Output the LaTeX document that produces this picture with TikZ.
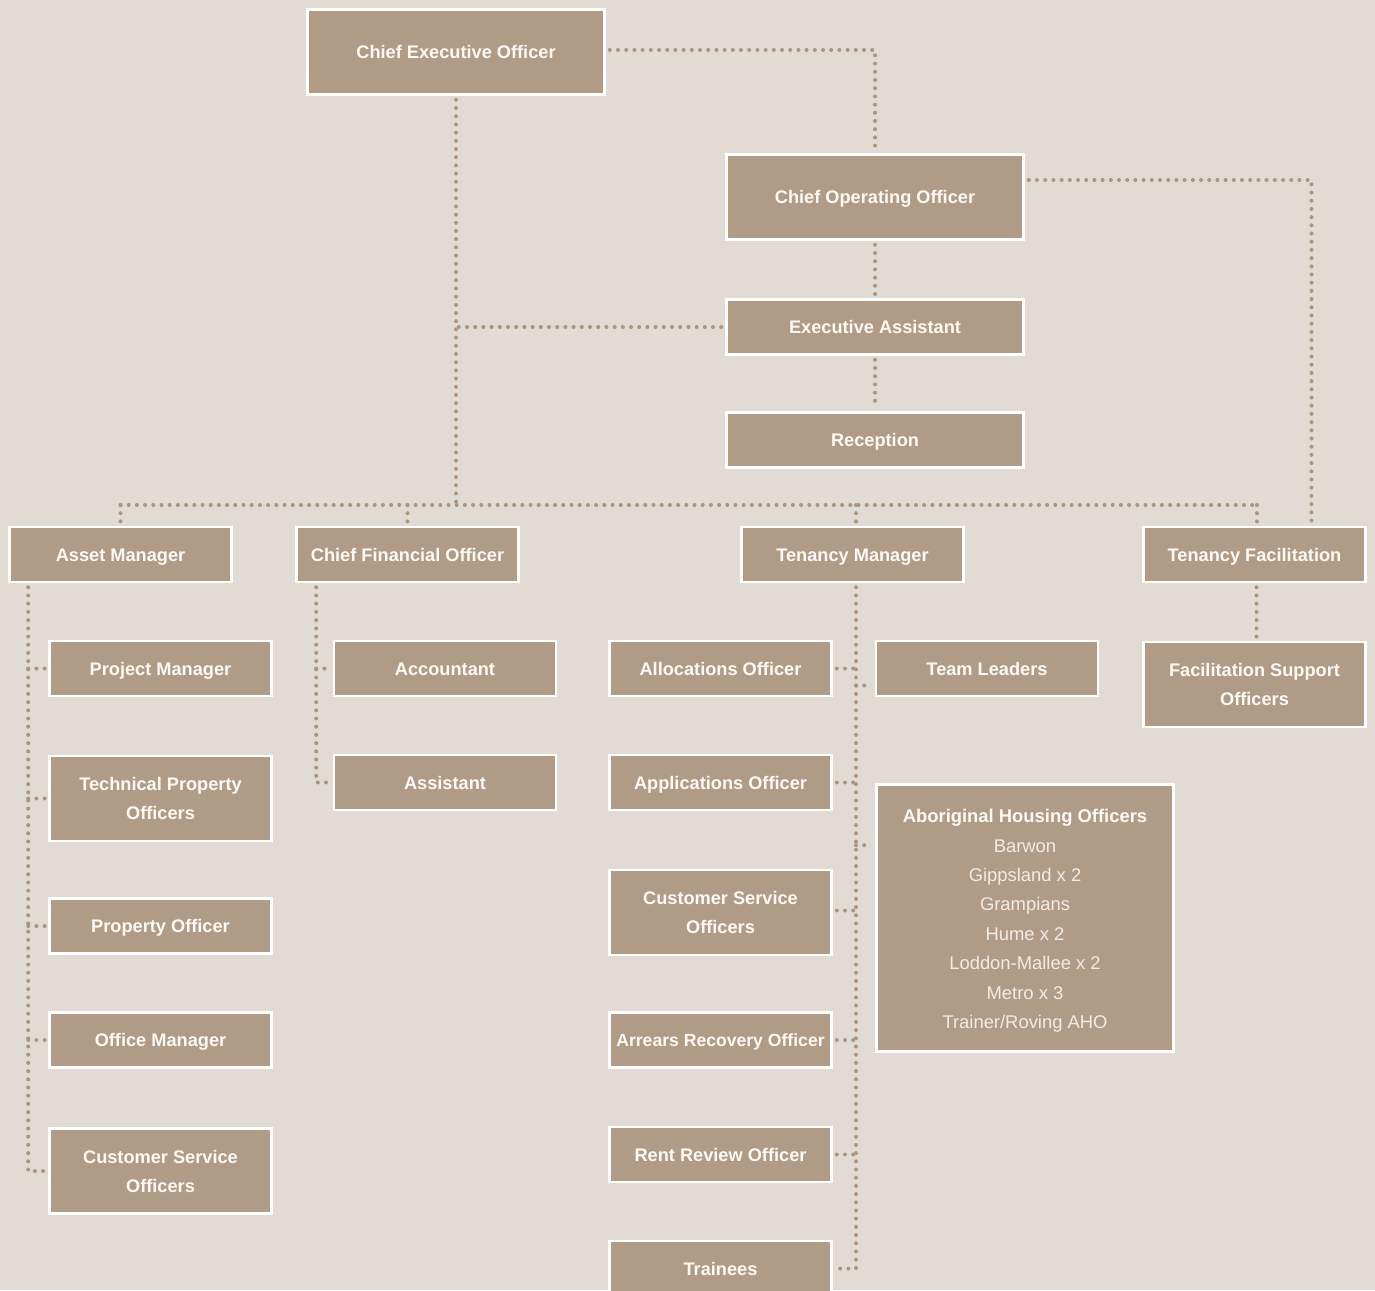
\documentclass[tikz,border=0pt]{standalone}
\usepackage{fontspec}
\setmainfont{Liberation Sans}
\usetikzlibrary{calc}
\definecolor{bgc}{HTML}{E2DBD4}
\definecolor{tanc}{HTML}{B09C86}
\definecolor{dotc}{HTML}{AA957E}
\definecolor{txtc}{HTML}{FBF9F6}
\definecolor{ltxtc}{HTML}{F1ECE6}
\pgfdeclarelayer{back}
\pgfdeclarelayer{conn}
\pgfsetlayers{back,conn,main}
\begin{document}
\begin{tikzpicture}[x=1pt,y=-1pt,
  box/.style={draw=white, line width=2.6pt, fill=tanc, text=txtc, inner sep=0pt, align=center,
    font=\fontsize{18.2}{29}\selectfont\bfseries},
  one/.style={text height=13pt, text depth=0pt},
  sbox/.style={box, one, minimum width=222pt, minimum height=55pt},
  tbox/.style={box, minimum width=222pt, minimum height=85pt},
  wbox/.style={box, one, minimum width=297pt, minimum height=85pt},
  ebox/.style={box, one, minimum width=297pt, minimum height=55pt},
  conn/.style={draw=dotc, line width=4pt, line cap=round, dash pattern=on 0pt off 8.2pt},
  s1/.style={shorten <=4pt},
  s2/.style={shorten >=3pt},
  s12/.style={shorten <=4pt, shorten >=4pt}]
\useasboundingbox (0,0) rectangle (1375,1290);
\begin{pgfonlayer}{back}
\fill[bgc] (0,0) rectangle (1375,1290);
\end{pgfonlayer}
\clip (0,0) rectangle (1375,1290);

% top
\node[wbox] (ceo) at (456,52) {Chief Executive Officer};
\node[wbox] (coo) at (875,197) {Chief Operating Officer};
\node[ebox] (ea) at (875,327) {Executive Assistant};
\node[ebox] (rec) at (875,440) {Reception};

% managers
\node[sbox] (am) at (120.5,554.5) {Asset Manager};
\node[sbox] (cfo) at (407.5,554.5) {Chief Financial Officer};
\node[sbox] (tm) at (852.5,554.5) {Tenancy Manager};
\node[sbox] (tf) at (1254.5,554.5) {Tenancy Facilitation};

% asset
\node[sbox] (pm) at (160.5,668.5) {Project Manager};
\node[tbox] (tpo) at (160.5,798.5) {Technical Property\\Officers};
\node[sbox] (po) at (160.5,926) {Property Officer};
\node[sbox] (om) at (160.5,1040) {Office Manager};
\node[tbox] (csoa) at (160.5,1171) {Customer Service\\Officers};

% finance
\node[sbox] (acc) at (445,668.5) {Accountant};
\node[sbox] (ast) at (445,782.5) {Assistant};

% tenancy
\node[sbox] (alo) at (720.5,668.5) {Allocations Officer};
\node[sbox] (apo) at (720.5,782.5) {Applications Officer};
\node[tbox] (csob) at (720.5,912.5) {Customer Service\\Officers};
\node[sbox, font=\fontsize{17.6}{29}\selectfont\bfseries] (aro) at (720.5,1040) {Arrears Recovery Officer};
\node[sbox] (rro) at (720.5,1154.5) {Rent Review Officer};
\node[sbox] (tr) at (720.5,1268.5) {Trainees};
\node[sbox] (tl) at (987,668.5) {Team Leaders};
\node[box, minimum width=297pt, minimum height=267pt, font=\fontsize{18.4}{29.4}\selectfont\mdseries, text=ltxtc] (aho) at (1025,918)
  {\rule{0pt}{19pt}{\bfseries\color{txtc}Aboriginal Housing Officers}\\Barwon\\Gippsland x 2\\Grampians\\Hume x 2\\Loddon-Mallee x 2\\Metro x 3\\Trainer/Roving AHO};

% facilitation
\node[tbox] (fso) at (1254.5,684.5) {Facilitation Support\\Officers};

\coordinate (bus) at (0,505);
\coordinate (amx) at ([xshift=20pt]am.south west);
\coordinate (cfox) at ([xshift=21pt]cfo.south west);
\coordinate (tmx) at ([xshift=3.5pt]tm.south);

\begin{pgfonlayer}{conn}
\draw[conn,s12] ([yshift=2pt]ceo.east) -| (coo.north);
\draw[conn,s1] (ceo.south) -- (ceo.south |- bus);
\draw[conn,s1] (ea.west) -- (ea.west -| ceo.south);
\draw[conn,s12] (coo.south) -- (ea.north);
\draw[conn,s12] (ea.south) -- (rec.north);
\draw[conn,s12] ([yshift=17pt]coo.east) -| ([xshift=57pt]tf.north);
% bus
\draw[conn] (am.north |- bus) -- ([xshift=2.5pt]tf.north |- bus);
\draw[conn,s2] (am.north |- bus) -- (am.north);
\draw[conn,s2] (cfo.north |- bus) -- (cfo.north);
\draw[conn,s2] (tmx |- bus) -- (tmx |- tm.north);
\draw[conn,s2] ([xshift=2.5pt]tf.north |- bus) -- ([xshift=2.5pt]tf.north);
% asset tree
\draw[conn,s12] (amx) |- (csoa.west);
\draw[conn,s2] (amx |- pm.west) -- (pm.west);
\draw[conn,s2] (amx |- tpo.west) -- (tpo.west);
\draw[conn,s2] (amx |- po.west) -- (po.west);
\draw[conn,s2] (amx |- om.west) -- (om.west);
% finance tree
\draw[conn,s12] (cfox) |- (ast.west);
\draw[conn,s2] (cfox |- acc.west) -- (acc.west);
% tenancy tree
\draw[conn,s12] (tmx) |- (tr.east);
\draw[conn,s1] (alo.east) -- (alo.east -| tmx);
\draw[conn,s1] (apo.east) -- (apo.east -| tmx);
\draw[conn,s1] ([yshift=2pt]csob.east) -- ([yshift=2pt]csob.east -| tmx);
\draw[conn,s1] (aro.east) -- (aro.east -| tmx);
\draw[conn,s1] (rro.east) -- (rro.east -| tmx);
\draw[conn,s2] ([yshift=-17pt]tl.west -| tmx) -- ([yshift=-17pt]tl.west);
\draw[conn,s2] ([yshift=-62pt]aho.north west -| tmx) -- ([yshift=-62pt]aho.north west);
% facilitation
\draw[conn,s12] ([xshift=2pt]tf.south) -- ([xshift=2pt]fso.north);
\end{pgfonlayer}
\end{tikzpicture}
\end{document}
